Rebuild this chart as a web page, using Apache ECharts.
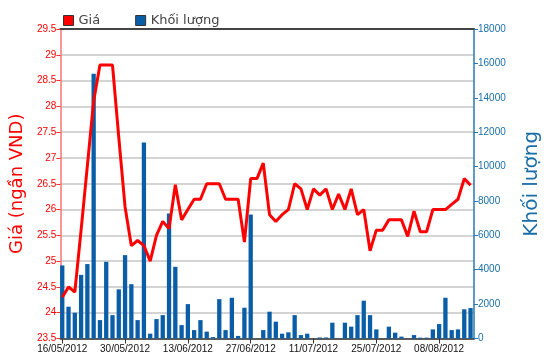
<!DOCTYPE html>
<html>
<head>
<meta charset="utf-8">
<script src="https://cdn.jsdelivr.net/npm/echarts@6/dist/echarts.min.js"></script>
<style>
html,body{margin:0;padding:0;background:#fff;}
#chart{width:550px;height:364px;}
</style>
</head>
<body>
<div id="chart"></div>
<script>
// Trading days (index = position on x axis)
const dates = [
  '16/05/2012','17/05/2012','18/05/2012','21/05/2012','22/05/2012','23/05/2012','24/05/2012','25/05/2012','28/05/2012','29/05/2012',
  '30/05/2012','31/05/2012','01/06/2012','04/06/2012','05/06/2012','06/06/2012','07/06/2012','08/06/2012','11/06/2012','12/06/2012',
  '13/06/2012','14/06/2012','15/06/2012','18/06/2012','19/06/2012','20/06/2012','21/06/2012','22/06/2012','25/06/2012','26/06/2012',
  '27/06/2012','28/06/2012','29/06/2012','02/07/2012','03/07/2012','04/07/2012','05/07/2012','06/07/2012','09/07/2012','10/07/2012',
  '11/07/2012','12/07/2012','13/07/2012','16/07/2012','17/07/2012','18/07/2012','19/07/2012','20/07/2012','23/07/2012','24/07/2012',
  '25/07/2012','26/07/2012','27/07/2012','30/07/2012','31/07/2012','01/08/2012','02/08/2012','03/08/2012','06/08/2012','07/08/2012',
  '08/08/2012','09/08/2012','10/08/2012','13/08/2012','14/08/2012','15/08/2012'
];
// Price (thousand VND)
const price = [
  24.3, 24.5, 24.4, 25.6, 26.85, 28.1, 28.8, 28.8, 28.8, 27.4,
  26.05, 25.3, 25.4, 25.3, 25.0, 25.5, 25.77, 25.63, 26.48, 25.8,
  26.0, 26.2, 26.2, 26.5, 26.5, 26.5, 26.2, 26.2, 26.2, 25.37,
  26.6, 26.6, 26.9, 25.9, 25.77, 25.9, 26.0, 26.5, 26.4, 26.0,
  26.4, 26.28, 26.4, 26.0, 26.3, 26.0, 26.4, 25.9, 26.0, 25.2,
  25.6, 25.6, 25.8, 25.8, 25.8, 25.48, 25.97, 25.57, 25.57, 26.0,
  26.0, 26.0, 26.1, 26.2, 26.6, 26.47
];
// Volume
const volume = [
  4250, 1850, 1500, 3700, 4330, 15400, 1070, 4460, 1360, 2860,
  4850, 3160, 1070, 11400, 280, 1130, 1360, 7270, 4170, 780,
  2000, 490, 1070, 400, 80, 2290, 490, 2370, 150, 1790,
  7210, 0, 490, 1560, 980, 280, 360, 1360, 200, 280,
  0, 60, 60, 920, 0, 920, 690, 1360, 2200, 1360,
  530, 0, 690, 340, 110, 0, 200, 50, 50, 530,
  840, 2370, 490, 530, 1700, 1770
];
// Labelled x positions (indices into dates)
const xTickIndex = [0, 10, 20, 30, 40, 50, 60];
const seriesNames = ['Giá', 'Khối lượng'];

const priceData = price.map((v, i) => [i, v]);
const volData = volume.map((v, i) => [i, v]);

const chart = echarts.init(document.getElementById('chart'), null, {renderer: 'canvas'});
const baseFont = 'Liberation Sans, Arial, sans-serif';
chart.setOption({
  animation: false,
  backgroundColor: '#ffffff',
  legend: {
    top: 9, left: 58,
    itemWidth: 10, itemHeight: 10, itemGap: 35,
    icon: 'rect',
    itemStyle: {borderColor: '#333', borderWidth: 1},
    textStyle: {fontFamily: 'DejaVu Sans', fontSize: 13, color: '#444'},
    data: [
      {name: seriesNames[0], itemStyle: {color: '#ff0000'}},
      {name: seriesNames[1], itemStyle: {color: '#0a5ea8'}}
    ]
  },
  grid: {left: 57, right: 69.5, top: 29, bottom: 25.5},
  xAxis: [
    {
      type: 'value', min: -0.3, max: 65.55, position: 'bottom',
      axisLine: {show: true, onZero: false, lineStyle: {color: '#333', width: 1.5}},
      axisTick: {show: true, customValues: xTickIndex, length: 5, lineStyle: {color: '#333', width: 1}},
      axisLabel: {show: true, customValues: xTickIndex, formatter: v => dates[Math.round(v)],
        fontFamily: baseFont, fontSize: 10, color: '#111', margin: 6},
      splitLine: {show: false}
    },
    {
      type: 'value', min: -0.3, max: 65.55, position: 'top',
      axisLine: {show: true, onZero: false, lineStyle: {color: '#444', width: 2}},
      axisTick: {show: false}, axisLabel: {show: false}, splitLine: {show: false}
    }
  ],
  yAxis: [
    {
      type: 'value', position: 'left', min: 23.5, max: 29.5, interval: 0.5,
      name: 'Giá (ngần VND)', nameLocation: 'middle', nameGap: 31, nameRotate: 90,
      nameTextStyle: {color: '#ff0000', fontFamily: 'DejaVu Sans', fontSize: 18},
      axisLine: {show: true, onZero: false, lineStyle: {color: '#ff7070', width: 1.5}},
      axisTick: {show: true, length: 4, lineStyle: {color: '#ff3030'}},
      axisLabel: {color: '#ff0000', fontFamily: baseFont, fontSize: 10, margin: 4},
      splitLine: {show: true, lineStyle: {color: '#d4d4d4', width: 2}}
    },
    {
      type: 'value', position: 'right', min: 0, max: 18000, interval: 2000,
      name: 'Khối lượng', nameLocation: 'middle', nameGap: 48, nameRotate: 90,
      nameTextStyle: {color: '#1a6ea8', fontFamily: 'DejaVu Sans', fontSize: 20},
      axisLine: {show: true, onZero: false, lineStyle: {color: '#2a78b0', width: 1.5}},
      axisTick: {show: true, length: 4, lineStyle: {color: '#2a78b0'}},
      axisLabel: {color: '#1a6ea8', fontFamily: baseFont, fontSize: 10, margin: 4,
        formatter: v => String(v)},
      splitLine: {show: false}
    }
  ],
  series: [
    {
      name: seriesNames[1], type: 'bar', xAxisIndex: 0, yAxisIndex: 1,
      data: volData, barWidth: 4.3,
      itemStyle: {color: '#0a5ea8'}, z: 2
    },
    {
      name: seriesNames[0], type: 'line', xAxisIndex: 0, yAxisIndex: 0,
      data: priceData, showSymbol: false, symbol: 'none',
      lineStyle: {color: '#ff0000', width: 3},
      itemStyle: {color: '#ff0000'}, z: 3
    }
  ]
});
</script>
</body>
</html>
